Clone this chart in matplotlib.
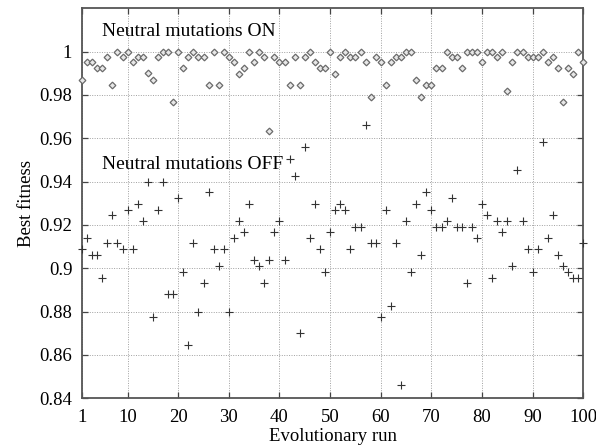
import matplotlib
matplotlib.use("Agg")
import matplotlib.pyplot as plt
import numpy as np

runs = list(range(1, 101))

fitness_on = [
    0.987, 0.995, 0.995, 0.9923, 0.9923, 0.9977, 0.9846, 1.0, 0.9977, 1.0,
    0.995, 0.9977, 0.9977, 0.990, 0.987, 0.9977, 1.0, 1.0, 0.9766, 1.0,
    0.9923, 0.9977, 1.0, 0.9977, 0.9977, 0.9846, 1.0, 0.9846, 1.0, 0.9977,
    0.995, 0.9897, 0.9923, 1.0, 0.995, 1.0, 0.9977, 0.9635, 0.9977, 0.995,
    0.995, 0.9846, 0.9977, 0.9846, 0.9977, 1.0, 0.995, 0.9923, 0.9923, 1.0,
    0.9897, 0.9977, 1.0, 0.9977, 0.9977, 1.0, 0.995, 0.9792, 0.9977, 0.995,
    0.9846, 0.995, 0.9977, 0.9977, 1.0, 1.0, 0.987, 0.9792, 0.9846, 0.9846,
    0.9923, 0.9923, 1.0, 0.9977, 0.9977, 0.9923, 1.0, 1.0, 1.0, 0.995,
    1.0, 1.0, 0.9977, 1.0, 0.982, 0.995, 1.0, 1.0, 0.9977, 0.9977,
    0.9977, 1.0, 0.995, 0.9977, 0.9923, 0.9766, 0.9923, 0.9897, 1.0, 0.995,
]

fitness_off = [
    0.9089, 0.9142, 0.9062, 0.9062, 0.8957, 0.9115, 0.9246, 0.9115, 0.9089, 0.9269,
    0.9089, 0.9297, 0.9218, 0.9400, 0.8774, 0.9269, 0.9400, 0.8880, 0.8880, 0.9326,
    0.8985, 0.8646, 0.9115, 0.8800, 0.8934, 0.9351, 0.9089, 0.9011, 0.9089, 0.8800,
    0.9142, 0.9218, 0.9166, 0.9297, 0.9038, 0.9011, 0.8934, 0.9038, 0.9166, 0.9218,
    0.9038, 0.9503, 0.9428, 0.8700, 0.9561, 0.9142, 0.9297, 0.9089, 0.8985, 0.9166,
    0.9269, 0.9297, 0.9269, 0.9089, 0.9192, 0.9192, 0.9661, 0.9115, 0.9115, 0.8777,
    0.9269, 0.8828, 0.9115, 0.8462, 0.9218, 0.8985, 0.9297, 0.9062, 0.9351, 0.9269,
    0.9192, 0.9192, 0.9218, 0.9323, 0.9192, 0.9192, 0.8934, 0.9192, 0.9142, 0.9297,
    0.9246, 0.8957, 0.9218, 0.9166, 0.9218, 0.9011, 0.9454, 0.9218, 0.9089, 0.8985,
    0.9089, 0.9584, 0.9142, 0.9246, 0.9062, 0.9011, 0.8985, 0.8957, 0.8957, 0.9115,
]

x_ticks = [1, 10, 20, 30, 40, 50, 60, 70, 80, 90, 100]
y_ticks = [0.84, 0.86, 0.88, 0.90, 0.92, 0.94, 0.96, 0.98, 1.0]
y_tick_labels = ["0.84", "0.86", "0.88", "0.9", "0.92", "0.94", "0.96", "0.98", "1"]

plt.rcParams['font.family'] = ['Liberation Serif', 'DejaVu Serif']

fig = plt.figure(figsize=(5.96, 4.47), dpi=100)
ax = fig.add_axes([82 / 596, 1 - 398.3 / 447, (583.3 - 82) / 596, (398.3 - 8.3) / 447])

ax.plot(runs, fitness_on, linestyle='none', marker='D', markersize=3.4,
        markerfacecolor='#e8e8e8', markeredgecolor='#6a6a6a', markeredgewidth=0.9,
        clip_on=False, zorder=3)
ax.plot(runs, fitness_off, linestyle='none', marker='+', markersize=6,
        color='#333333', markeredgewidth=0.8, clip_on=False, zorder=3)

ax.set_xlim(1, 100)
ax.set_ylim(0.84, 1.02)
ax.set_xticks(x_ticks)
ax.set_yticks(y_ticks)
ax.set_yticklabels(y_tick_labels)
ax.tick_params(direction='in', length=4, width=0.9, color='#444444',
               top=True, right=True, labelsize=13.5)
ax.tick_params(axis='x', pad=8)
ax.tick_params(axis='y', pad=7)
ax.grid(True, linestyle=(0, (1, 1.5)), color='#a0a0a0', linewidth=0.7)
ax.set_axisbelow(True)
for s in ax.spines.values():
    s.set_color('#555555')
    s.set_linewidth(1.3)

ax.set_xlabel('Evolutionary run', fontsize=13.5, labelpad=1)
ax.set_ylabel('Best fitness', fontsize=13.5, labelpad=3)

ax.text(0.0408, 0.94, 'Neutral mutations ON', transform=ax.transAxes,
        fontsize=14, va='center', ha='left')
ax.text(0.0408, 0.60, 'Neutral mutations OFF', transform=ax.transAxes,
        fontsize=14, va='center', ha='left')

fig.savefig('out.png', dpi=100)
